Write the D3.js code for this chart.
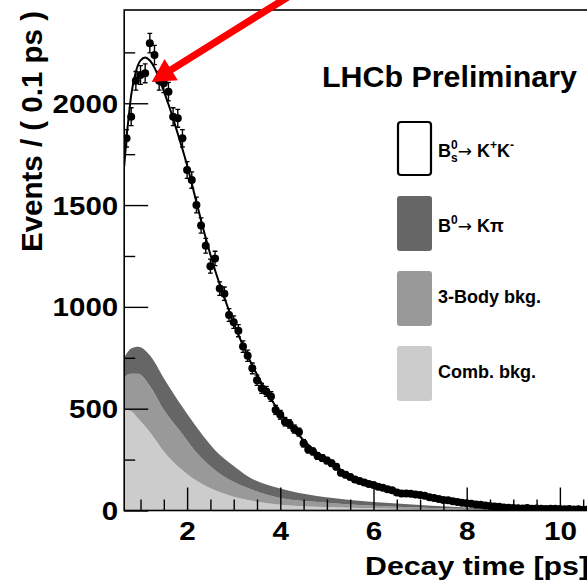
<!DOCTYPE html>
<html><head><meta charset="utf-8">
<script src="https://cdn.jsdelivr.net/npm/d3@7"></script>
<style>html,body{margin:0;padding:0;background:#fff;overflow:hidden}</style>
</head><body><svg id="c" width="587" height="583" xmlns="http://www.w3.org/2000/svg"></svg>
<script>
// ---------- data ----------
const binTimes = [0.7,0.8,0.9,1.0,1.1,1.2,1.3,1.4,1.5,1.6,1.7,1.8,1.9,2.0,2.1,2.2,2.3,2.4,2.5,2.6,2.7,2.8,2.9,3.0,3.1,3.2,3.3,3.4,3.5,3.6,3.7,3.8,3.9,4.0,4.1,4.2,4.3,4.4,4.5,4.6,4.7,4.8,4.9,5.0,5.1,5.2,5.3,5.4,5.5,5.6,5.7,5.8,5.9,6.0,6.1,6.2,6.3,6.4,6.5,6.6,6.7,6.8,6.9,7.0,7.1,7.2,7.3,7.4,7.5,7.6,7.7,7.8,7.9,8.0,8.1,8.2,8.3,8.4,8.5,8.6,8.7,8.8,8.9,9.0,9.1,9.2,9.3,9.4,9.5,9.6,9.7,9.8,9.9,10.0,10.1,10.2,10.3,10.4,10.5,10.6];
const events = [1828,1934,2110,2139,2147,2295,2237,2110,2098,2057,1934,1926,1828,1672,1623,1500,1400,1300,1200,1238,1090,1065,960,925,883,805,760,698,640,600,585,560,494,470,436,425,400,385,330,300,290,268,258,245,232,215,185,175,165,152,145,138,130,125,117,112,104,100,88,84,84,82,78,76,72,65,62,56,52,50,45,42,38,36,33,30,28,24,22,20,18,15,13,12,11,10,12,9,10,8,7,9,8,7,6,7,5,6,4,5];

const fitTimes = [0.65,0.7,0.75,0.8,0.9,1.0,1.1,1.2,1.3,1.4,1.5,1.6,1.7,1.8,1.9,2.0,2.2,2.4,2.6,2.8,3.0,3.2,3.4,3.6,3.8,4.0,4.25,4.5,4.75,5.0,5.5,6.0,6.5,7.0,7.5,8.0,8.5,9.0,9.5,10.0,10.7];
const fitValues = [1690,1830,1940,2040,2155,2210,2225,2210,2175,2120,2060,1995,1925,1850,1775,1695,1515,1338,1180,1045,920,810,712,625,548,480,408,345,292,248,172,127,95,72,53,38,26,17,12,8,5];

const bkgTimes = [0.65,0.8,0.95,1.2,1.5,1.9,2.25,2.6,3.0,3.3,4.0,4.75,5.5,6.5,8.0,10.0,10.7];
const combBkg = [495,488,452,385,290,198,140,99,68,52,28,18,13,8,4,2,1.5];
const threeBodyBkg = [160,184,220,227,205,177,132,99,72,58,34,25,17,10,4,1,1];
const bdKpiBkg = [97,123,132,150,155,133,123,98,78,58,46,29,22,16,7,3,2];

const xMajorTicks = [2,4,6,8,10];
const xMinorTicks = [1,1.5,2.5,3,3.5,4.5,5,5.5,6.5,7,7.5,8.5,9,9.5,10.5];
const yMajorTicks = [0,500,1000,1500,2000];
const yMinorTicks = [250,750,1250,1750,2250];

const xTitle = "Decay time [ps]";
const yTitle = "Events / ( 0.1 ps )";
const headline = "LHCb Preliminary";
const legendNames = ["3-Body bkg.", "Comb. bkg."];

// ---------- layout ----------
const svg = d3.select('#c');
const x = d3.scaleLinear().domain([0.65, 10.7]).range([124.2, 592.5]);
const y = d3.scaleLinear().domain([0, 2458]).range([510.5, 10]);
const FONT = "'Liberation Sans', Arial, Helvetica, sans-serif";

svg.append('defs').append('clipPath').attr('id','plot')
  .append('rect').attr('x',x(0.65)).attr('y',y(2458)).attr('width',x(10.7)-x(0.65)).attr('height',y(0)-y(2458));

const gPlot = svg.append('g').attr('clip-path','url(#plot)');

// background stacked components
const rows = bkgTimes.map((t,i)=>({t, comb:combBkg[i], three:threeBodyBkg[i], kpi:bdKpiBkg[i]}));
const series = d3.stack().keys(['comb','three','kpi'])(rows);
const colors = {comb:'#cccccc', three:'#999999', kpi:'#666666'};
const area = d3.area().x(d=>x(d.data.t)).y0(d=>y(d[0])).y1(d=>y(d[1])).curve(d3.curveMonotoneX);
gPlot.selectAll('path.band').data(series).join('path')
  .attr('class','band').attr('d',area).attr('fill',d=>colors[d.key]).attr('stroke','none');

// axes ticks (inward)
const axMinX = d3.axisBottom(x).tickValues(xMinorTicks).tickSize(-11).tickFormat('');
const axMajX = d3.axisBottom(x).tickValues(xMajorTicks).tickSize(-23).tickFormat(d3.format('d'));
const axMinY = d3.axisLeft(y).tickValues(yMinorTicks).tickSize(-11).tickFormat('');
const axMajY = d3.axisLeft(y).tickValues(yMajorTicks).tickSize(-24).tickFormat(d3.format('d'));

function styleAxis(g){
  g.select('.domain').remove();
  g.selectAll('.tick line').attr('stroke','#000').attr('stroke-width',1.4);
}
svg.append('g').attr('transform',`translate(0,${y(0)})`).call(axMinX).call(styleAxis);
const gx = svg.append('g').attr('transform',`translate(0,${y(0)})`).call(axMajX).call(styleAxis);
svg.append('g').attr('transform',`translate(${x(0.65)},0)`).call(axMinY).call(styleAxis);
const gy = svg.append('g').attr('transform',`translate(${x(0.65)},0)`).call(axMajY).call(styleAxis);

gx.selectAll('.tick text')
  .attr('font-family',FONT).attr('font-weight','bold').attr('font-size',25).attr('fill','#000')
  .attr('dy',null).attr('y',29.5)
  .attr('textLength',d=>String(d).length*16.5).attr('lengthAdjust','spacingAndGlyphs');
gy.selectAll('.tick text')
  .attr('font-family',FONT).attr('font-weight','bold').attr('font-size',25).attr('fill','#000')
  .attr('dy',null).attr('y',9).attr('x',-6)
  .attr('textLength',d=>String(d).length*16.4).attr('lengthAdjust','spacingAndGlyphs');

// fit curve
const line = d3.line().x((d,i)=>x(fitTimes[i])).y(d=>y(d)).curve(d3.curveMonotoneX);
gPlot.append('path').attr('d',line(fitValues)).attr('fill','none').attr('stroke','#000').attr('stroke-width',2);

// data points with Poisson error bars
const pts = gPlot.append('g');
binTimes.forEach((t,i)=>{
  const n = events[i], e = Math.sqrt(n);
  const cx = x(t);
  pts.append('line').attr('x1',cx).attr('x2',cx).attr('y1',y(n-e)).attr('y2',y(n+e)).attr('stroke','#000').attr('stroke-width',1.4);
  [n-e,n+e].forEach(v=>pts.append('line').attr('x1',cx-2.4).attr('x2',cx+2.4).attr('y1',y(v)).attr('y2',y(v)).attr('stroke','#000').attr('stroke-width',1.3));
  pts.append('line').attr('x1',x(t-0.05)).attr('x2',x(t+0.05)).attr('y1',y(n)).attr('y2',y(n)).attr('stroke','#000').attr('stroke-width',1.4);
  pts.append('circle').attr('cx',cx).attr('cy',y(n)).attr('r',4).attr('fill','#000');
});

// frame
svg.append('rect').attr('x',x(0.65)).attr('y',y(2458)).attr('width',x(10.7)-x(0.65)).attr('height',y(0)-y(2458))
  .attr('fill','none').attr('stroke','#000').attr('stroke-width',1.6);

// axis titles
svg.append('text').attr('x',589).attr('y',575).attr('text-anchor','end')
  .attr('font-family',FONT).attr('font-weight','bold').attr('font-size',25)
  .attr('textLength',224).attr('lengthAdjust','spacingAndGlyphs').text(xTitle);
svg.append('text').attr('transform','translate(42,11) rotate(-90)').attr('text-anchor','end')
  .attr('font-family',FONT).attr('font-weight','bold').attr('font-size',29.5)
  .attr('textLength',241).attr('lengthAdjust','spacingAndGlyphs').text(yTitle);

// headline
svg.append('text').attr('x',322).attr('y',87)
  .attr('font-family',FONT).attr('font-weight','bold').attr('font-size',29)
  .attr('textLength',255).attr('lengthAdjust','spacingAndGlyphs').text(headline);

// legend
const legBoxes = [
  {fill:'#ffffff', stroke:'#000', y:121},
  {fill:colors.kpi, stroke:'none', y:196},
  {fill:colors.three, stroke:'none', y:271},
  {fill:colors.comb, stroke:'none', y:346}
];
const gl = svg.append('g');
legBoxes.forEach(b=>{
  gl.append('rect').attr('x',b.stroke==='none'?397:398).attr('y',b.stroke==='none'?b.y:b.y+1)
    .attr('width',b.stroke==='none'?35:33).attr('height',b.stroke==='none'?55:53).attr('rx',3)
    .attr('fill',b.fill).attr('stroke',b.stroke).attr('stroke-width',b.stroke==='none'?0:2.2);
});
function legText(yb){ return gl.append('text').attr('x',438).attr('y',yb).attr('font-family',FONT).attr('font-weight','bold').attr('font-size',18); }
// B_s^0 -> K+ K-
let t1 = legText(157);
t1.append('tspan').text('B');
t1.append('tspan').attr('font-size',12).attr('dy',-8).text('0');
t1.append('tspan').attr('font-size',12).attr('dx',-6.7).attr('dy',13).text('s');
t1.append('tspan').attr('dy',-5).attr('font-family',"'DejaVu Sans', sans-serif").attr('font-weight','normal').attr('font-size',17).text('\u2192');
t1.append('tspan').text(' K');
t1.append('tspan').attr('font-size',12).attr('dy',-8).text('+');
t1.append('tspan').attr('dy',8).text('K');
t1.append('tspan').attr('font-size',12).attr('dy',-8).text('-');
// B0 -> K pi
let t2 = legText(232);
t2.append('tspan').text('B');
t2.append('tspan').attr('font-size',12).attr('dy',-8).text('0');
t2.append('tspan').attr('dy',8).attr('font-family',"'DejaVu Sans', sans-serif").attr('font-weight','normal').attr('font-size',17).text('\u2192');
t2.append('tspan').text(' K\u03c0');
legText(303).text(legendNames[0]);
legText(378).text(legendNames[1]);

// annotation arrow (red), positioned in data coordinates
const arrowTip = {t:1.24, n:2105};
const arrowTail = {t:4.5, n:2570};
(function(){
  const px = x(arrowTip.t), py = y(arrowTip.n), qx = x(arrowTail.t), qy = y(arrowTail.n);
  const L = Math.hypot(qx-px, qy-py), ux=(qx-px)/L, uy=(qy-py)/L, nx=-uy, ny=ux;
  const hl=23, hw=12.5, sw=3.6;
  const bx=px+ux*hl, by=py+uy*hl;
  const P = [[px,py],[bx+nx*hw,by+ny*hw],[bx+nx*sw,by+ny*sw],[qx+nx*sw,qy+ny*sw],[qx-nx*sw,qy-ny*sw],[bx-nx*sw,by-ny*sw],[bx-nx*hw,by-ny*hw]];
  svg.append('polygon').attr('points',P.map(p=>p.join(',')).join(' ')).attr('fill','#ff0000');
})();
</script></body></html>
